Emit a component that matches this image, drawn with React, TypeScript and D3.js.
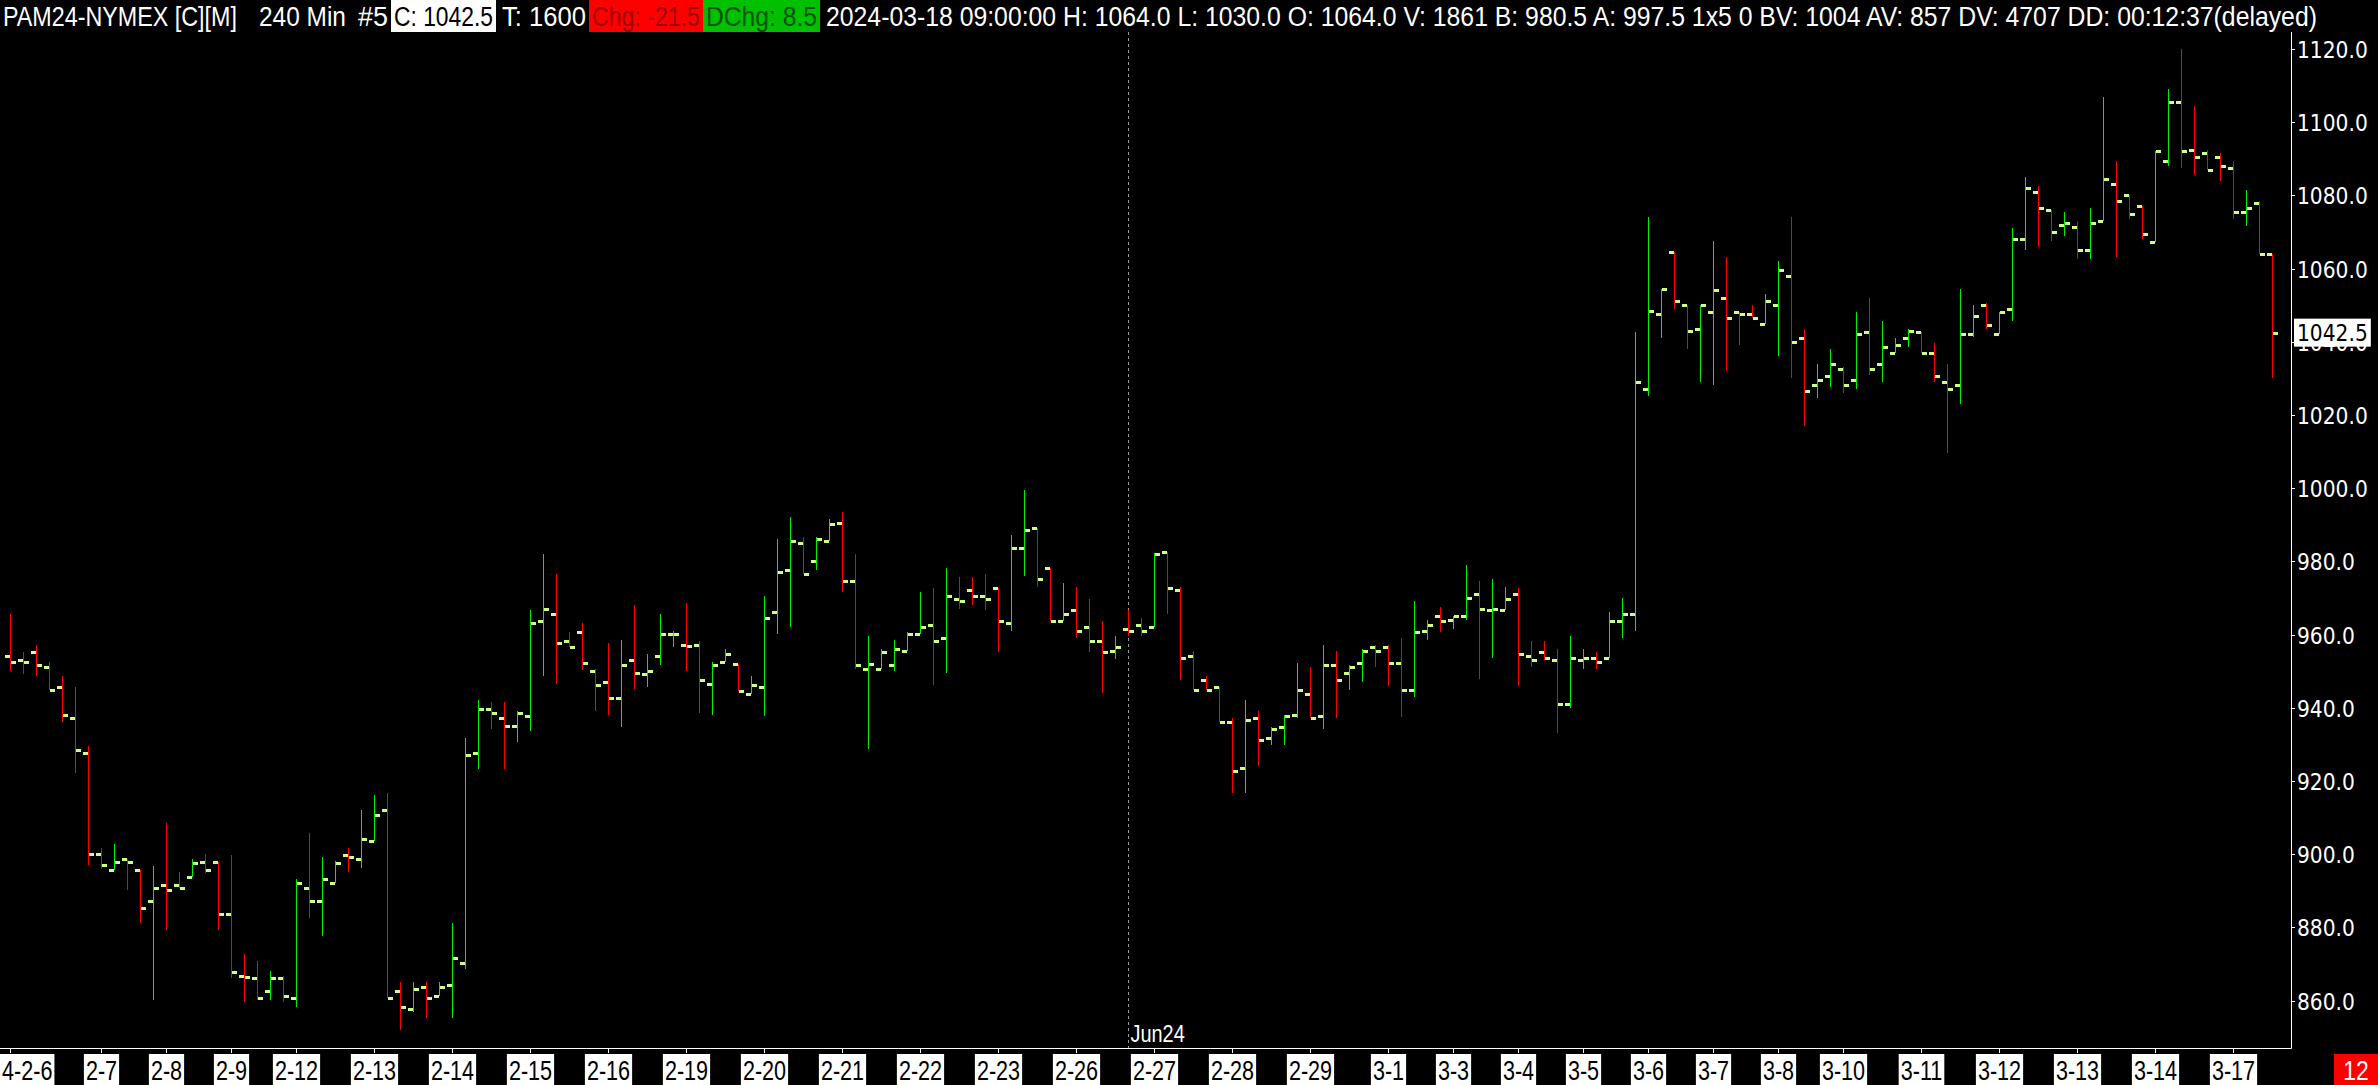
import React, { useRef, useEffect } from 'react';
import * as d3 from 'd3';

const W = 2378;
const H = 1085;

// 240 min OHLC bars, PAM24
const opens = [
  954.1, 953.0, 955.2, 951.1, 945.6, 937.1, 927.6, 900.0, 895.6, 898.6,
  895.6, 887.1, 891.5, 891.5, 893.7, 898.0, 898.0, 883.6, 866.6, 866.1,
  862.5, 866.1, 860.6, 890.9, 887.1, 892.0, 899.7, 898.6, 903.5, 912.0,
  862.5, 857.6, 863.6, 861.2, 864.2, 870.2, 927.6, 939.6, 937.1, 934.9,
  937.7, 963.6, 965.5, 958.2, 960.6, 950.0, 947.0, 942.6, 953.0, 949.1,
  954.1, 960.1, 957.1, 957.1, 946.4, 952.4, 952.1, 943.9, 945.6, 966.1,
  977.6, 984.9, 980.0, 985.5, 990.4, 974.6, 950.5, 950.5, 951.6, 955.4,
  960.1, 962.5, 959.0, 969.6, 972.1, 970.5, 972.6, 963.1, 983.6, 989.0,
  978.1, 963.6, 966.6, 962.0, 958.2, 955.4, 961.4, 962.5, 962.0, 982.5,
  972.1, 954.1, 947.5, 945.6, 936.0, 923.5, 937.1, 931.7, 934.7, 937.9,
  943.9, 937.7, 951.6, 949.4, 952.2, 956.5, 956.5, 952.2, 945.0, 960.9,
  965.0, 963.9, 965.0, 971.0, 966.6, 966.6, 971.0, 954.1, 955.2, 953.0,
  941.0, 953.0, 953.5, 953.5, 963.6, 965.5, 1027.0, 1047.5, 1064.5, 1050.0,
  1043.4, 1048.1, 1051.9, 1048.1, 1047.5, 1045.0, 1050.0, 1057.9, 1041.0, 1028.1,
  1030.6, 1032.5, 1029.5, 1042.6, 1033.8, 1036.9, 1041.0, 1042.6, 1036.9, 1028.9,
  1028.1, 1042.0, 1050.0, 1042.0, 1048.9, 1068.0, 1080.8, 1075.9, 1071.8, 1071.5,
  1065.0, 1072.9, 1083.0, 1080.0, 1077.0, 1067.4, 1089.3, 1105.4, 1092.3, 1091.5,
  1090.4, 1087.4, 1075.4, 1077.8, 1064.0,
];
const highs = [
  965.6, 955.2, 957.2, 952.5, 948.7, 945.7, 929.6, 901.7, 902.8, 898.6,
  895.6, 896.8, 908.5, 895.1, 898.7, 900.1, 898.0, 899.8, 872.7, 870.8,
  868.1, 866.6, 893.2, 905.8, 899.2, 898.1, 901.7, 912.1, 916.2, 916.7,
  865.1, 865.1, 865.1, 865.1, 881.2, 931.8, 942.1, 941.6, 941.6, 939.1,
  966.7, 982.0, 976.6, 960.7, 963.2, 950.5, 957.7, 958.5, 968.1, 954.7,
  965.6, 961.0, 968.6, 958.2, 952.5, 956.1, 952.1, 948.7, 970.5, 986.1,
  992.1, 986.7, 986.7, 991.6, 993.5, 982.0, 959.6, 956.1, 958.5, 960.7,
  971.6, 972.7, 978.2, 975.7, 975.7, 976.6, 972.6, 987.2, 999.5, 989.0,
  978.1, 974.1, 973.0, 969.7, 963.7, 959.6, 966.7, 964.5, 982.2, 982.5,
  973.0, 955.5, 948.7, 945.6, 937.2, 942.1, 939.1, 934.8, 938.0, 952.2,
  951.1, 957.2, 955.5, 951.8, 956.0, 957.1, 957.1, 959.1, 969.2, 964.0,
  967.5, 965.0, 979.0, 974.6, 975.2, 973.0, 972.7, 958.3, 958.3, 956.0,
  959.6, 956.0, 955.2, 966.2, 970.0, 1042.7, 1074.1, 1054.3, 1064.5, 1050.0,
  1050.0, 1067.5, 1063.2, 1048.1, 1050.0, 1053.1, 1062.1, 1074.1, 1043.5, 1033.9,
  1038.0, 1033.2, 1048.1, 1052.0, 1045.7, 1041.0, 1043.4, 1042.6, 1039.7, 1033.9,
  1054.4, 1050.1, 1050.5, 1048.1, 1071.1, 1085.0, 1082.6, 1075.9, 1075.5, 1072.9,
  1076.5, 1106.8, 1089.4, 1080.0, 1077.0, 1092.0, 1109.1, 1120.0, 1104.3, 1092.3,
  1091.5, 1089.3, 1081.4, 1078.4, 1064.0,
];
const lows = [
  950.1, 949.3, 948.8, 945.0, 936.2, 922.3, 897.0, 895.9, 895.6, 890.3,
  881.3, 860.3, 879.4, 890.9, 893.7, 894.8, 879.4, 866.3, 859.7, 860.3,
  860.3, 859.7, 858.3, 882.7, 877.7, 892.0, 895.2, 896.3, 903.5, 860.6,
  852.0, 856.8, 855.3, 861.2, 855.3, 868.7, 923.4, 934.3, 923.4, 930.7,
  933.7, 948.8, 946.6, 956.5, 950.2, 939.1, 938.0, 934.8, 945.1, 945.8,
  951.7, 956.7, 950.1, 938.6, 938.0, 952.4, 944.5, 943.9, 937.8, 960.3,
  962.2, 976.5, 977.7, 985.5, 971.7, 950.7, 928.8, 950.5, 950.1, 955.4,
  960.1, 946.3, 949.6, 967.1, 968.2, 966.8, 955.3, 961.1, 976.1, 973.1,
  963.6, 963.6, 959.2, 955.3, 944.0, 953.2, 959.7, 959.7, 962.0, 965.7,
  947.7, 945.0, 945.0, 936.0, 916.8, 916.8, 924.2, 929.7, 929.7, 937.3,
  937.1, 934.3, 937.3, 945.0, 947.0, 951.2, 946.0, 937.5, 943.0, 958.5,
  960.7, 961.6, 964.0, 948.0, 953.7, 966.6, 946.0, 951.2, 953.0, 933.0,
  940.0, 950.7, 950.7, 953.5, 959.2, 961.1, 1025.3, 1041.1, 1049.0, 1038.1,
  1029.1, 1028.3, 1032.0, 1039.2, 1046.4, 1045.0, 1036.2, 1030.2, 1017.1, 1024.7,
  1027.7, 1026.1, 1027.2, 1030.8, 1029.1, 1036.9, 1038.7, 1036.9, 1029.1, 1009.7,
  1023.1, 1041.2, 1043.6, 1042.0, 1045.8, 1065.2, 1066.0, 1067.6, 1069.0, 1062.7,
  1062.7, 1072.9, 1063.3, 1073.6, 1068.2, 1067.4, 1088.1, 1087.6, 1085.7, 1086.9,
  1084.0, 1073.6, 1071.7, 1063.9, 1030.0,
];
const closes = [
  952.4, 952.4, 951.6, 945.0, 937.9, 928.6, 900.0, 897.0, 898.0, 898.0,
  885.2, 890.9, 890.1, 890.9, 897.5, 895.6, 883.6, 867.7, 866.5, 860.6,
  866.1, 861.2, 892.0, 887.1, 893.1, 897.5, 899.1, 904.1, 910.6, 860.6,
  858.2, 863.1, 860.6, 863.6, 871.6, 927.0, 939.6, 938.5, 934.9, 938.5,
  963.1, 966.9, 957.6, 956.5, 952.2, 946.1, 942.6, 951.6, 949.4, 950.0,
  960.1, 960.2, 957.0, 947.5, 951.6, 954.6, 944.5, 946.1, 964.4, 977.0,
  985.5, 976.5, 986.0, 990.1, 974.6, 951.6, 952.1, 955.2, 956.0, 960.1,
  962.0, 958.2, 970.5, 969.1, 970.5, 969.6, 963.6, 983.6, 988.5, 975.1,
  963.6, 965.5, 960.9, 958.2, 955.2, 956.5, 960.9, 960.9, 981.9, 972.6,
  953.5, 945.0, 945.0, 936.0, 922.6, 936.6, 931.1, 934.1, 937.7, 945.0,
  937.1, 951.6, 947.5, 951.1, 955.4, 955.4, 952.2, 945.0, 960.6, 962.5,
  963.6, 965.0, 969.9, 966.9, 966.9, 969.6, 954.6, 953.0, 953.5, 941.0,
  953.5, 953.5, 952.4, 963.6, 965.5, 1028.9, 1048.3, 1054.3, 1051.1, 1042.9,
  1050.0, 1054.1, 1046.4, 1047.5, 1046.4, 1051.1, 1059.5, 1039.9, 1026.5, 1029.5,
  1033.8, 1028.1, 1042.0, 1032.5, 1038.5, 1039.0, 1042.9, 1036.9, 1030.6, 1027.0,
  1042.0, 1047.0, 1044.5, 1048.1, 1068.0, 1081.9, 1076.5, 1069.9, 1072.4, 1065.0,
  1072.4, 1084.4, 1078.4, 1074.8, 1069.4, 1092.0, 1105.4, 1092.0, 1090.4, 1086.9,
  1087.9, 1075.4, 1076.5, 1063.9, 1042.5,
];

const dayLabels = [
  '4-2-6', '2-7', '2-8', '2-9', '2-12', '2-13', '2-14', '2-15', '2-16', '2-19',
  '2-20', '2-21', '2-22', '2-23', '2-26', '2-27', '2-28', '2-29', '3-1', '3-3',
  '3-4', '3-5', '3-6', '3-7', '3-8', '3-10', '3-11', '3-12', '3-13', '3-14', '3-17',
];
const dayStarts = [
  0, 7, 12, 17, 22, 28, 34, 40, 46, 52, 58, 64, 70, 76, 82, 88, 94, 100, 106, 111,
  116, 121, 126, 131, 136, 141, 147, 153, 159, 165, 171,
];

const yTicks = [860, 880, 900, 920, 940, 960, 980, 1000, 1020, 1040, 1060, 1080, 1100, 1120];
const lastPrice = 1042.5;
const rollIndex = 86;
const rollLabel = 'Jun24';

const headerParts = [
  { text: 'PAM24-NYMEX [C][M]', x0: 3, x1: 237, fg: '#ffffff', bg: '' },
  { text: '240 Min', x0: 259, x1: 346, fg: '#ffffff', bg: '' },
  { text: '#5', x0: 358, x1: 388, fg: '#ffffff', bg: '' },
  { text: 'C: 1042.5', x0: 394, x1: 493, fg: '#000000', bg: '#ffffff' },
  { text: 'T: 1600', x0: 502, x1: 586, fg: '#ffffff', bg: '' },
  { text: 'Chg: -21.5', x0: 592, x1: 700, fg: '#a00000', bg: '#ff0000' },
  { text: 'DChg: 8.5', x0: 706, x1: 817, fg: '#005500', bg: '#00c000' },
  {
    text: '2024-03-18 09:00:00 H: 1064.0 L: 1030.0 O: 1064.0 V: 1861 B: 980.5 A: 997.5 1x5 0 BV: 1004 AV: 857 DV: 4707 DD: 00:12:37(delayed)',
    x0: 826, x1: 2318, fg: '#ffffff', bg: '',
  },
];

const NARROW = "'Liberation Sans', Arial, sans-serif";
const AXISFONT = "'DejaVu Sans', Verdana, sans-serif";

// measure a text and squeeze it horizontally to the wanted width
const place = (
  t: d3.Selection<SVGTextElement, unknown, null, undefined>,
  left: number,
  baseline: number,
  width: number | null,
  factor = 1,
) => {
  const node = t.node()!;
  const nat = node.getComputedTextLength() || 1;
  const w = width ?? nat * factor;
  t.attr('x', 0).attr('y', 0)
    .attr('transform', `translate(${left},${baseline}) scale(${w / nat},1)`);
  return w;
};
const measure = (t: d3.Selection<SVGTextElement, unknown, null, undefined>) =>
  t.node()!.getComputedTextLength();

export default function App() {
  const ref = useRef<SVGSVGElement | null>(null);

  useEffect(() => {
    if (!ref.current) return;
    const svg = d3.select(ref.current);
    svg.selectAll('*').remove();

    const plotRight = 2291;
    const plotTop = 32;
    const plotBottom = 1048;

    const x = d3.scaleLinear().domain([0, opens.length - 1]).range([10.3, 2272.3]);
    const y = d3.scaleLinear().domain([860, 1120]).range([1000.6, 49]);

    svg.append('rect').attr('width', W).attr('height', H).attr('fill', '#000');

    // contract roll marker
    const rx = Math.round(x(rollIndex)) + 0.5;
    svg.append('line')
      .attr('x1', rx).attr('x2', rx)
      .attr('y1', plotTop).attr('y2', plotBottom)
      .attr('stroke', '#9a9a9a').attr('stroke-width', 1)
      .attr('stroke-dasharray', '3 3');
    const rt = svg.append('text')
      .attr('font-family', NARROW).attr('font-size', 24)
      .attr('fill', '#ffffff').text(rollLabel);
    place(rt, rx + 2, 1042, null, 0.83);

    // OHLC bars
    const bars = d3.range(opens.length).map(i => ({
      i, o: opens[i], h: highs[i], l: lows[i], c: closes[i],
    }));
    const px = (i: number) => Math.round(x(i));
    const g = svg.append('g').attr('shape-rendering', 'crispEdges');
    g.selectAll('line.hl').data(bars).join('line')
      .attr('class', 'hl')
      .attr('x1', d => px(d.i) + 0.5).attr('x2', d => px(d.i) + 0.5)
      .attr('y1', d => y(d.h)).attr('y2', d => y(d.l))
      .attr('stroke', d => (d.c >= d.o ? '#00ee00' : '#ff0000'))
      .attr('stroke-width', 1);
    g.selectAll('rect.op').data(bars).join('rect')
      .attr('class', 'op')
      .attr('x', d => px(d.i) - 5).attr('y', d => Math.round(y(d.o)) - 1)
      .attr('width', 5).attr('height', 3).attr('fill', '#ccff88');
    g.selectAll('rect.cl').data(bars).join('rect')
      .attr('class', 'cl')
      .attr('x', d => px(d.i) + 1).attr('y', d => Math.round(y(d.c)) - 1)
      .attr('width', 5).attr('height', 3).attr('fill', '#ccff88');

    // axes lines
    svg.append('line')
      .attr('x1', plotRight + 0.5).attr('x2', plotRight + 0.5)
      .attr('y1', plotTop).attr('y2', plotBottom + 0.5)
      .attr('stroke', '#ffffff').attr('stroke-width', 1);
    svg.append('line')
      .attr('x1', 0).attr('x2', plotRight + 0.5)
      .attr('y1', plotBottom + 0.5).attr('y2', plotBottom + 0.5)
      .attr('stroke', '#ffffff').attr('stroke-width', 1);

    // y axis ticks and labels
    const ya = svg.append('g');
    yTicks.forEach(v => {
      const ty = Math.round(y(v)) + 0.5;
      ya.append('line')
        .attr('x1', plotRight).attr('x2', plotRight + 4)
        .attr('y1', ty).attr('y2', ty)
        .attr('stroke', '#ffffff');
      const t = ya.append('text')
        .attr('dy', '0.36em')
        .attr('font-family', AXISFONT).attr('font-size', 23)
        .attr('fill', '#ffffff').text(d3.format('.1f')(v));
      place(t, plotRight + 6, ty, null, 0.88);
    });

    // last price tag
    const ly = y(lastPrice);
    const tag = svg.append('g');
    const tagRect = tag.append('rect')
      .attr('x', plotRight + 3).attr('y', ly - 14).attr('height', 28)
      .attr('fill', '#ffffff');
    const tagText = tag.append('text')
      .attr('dy', '0.36em')
      .attr('font-family', AXISFONT).attr('font-size', 23)
      .attr('fill', '#000000').text(d3.format('.1f')(lastPrice));
    const tw = place(tagText, plotRight + 6, ly, null, 0.88);
    tagRect.attr('width', tw + 6);

    // x axis day labels
    const xa = svg.append('g');
    dayLabels.forEach((lab, k) => {
      const cx = px(dayStarts[k]) + 0.5;
      xa.append('line')
        .attr('x1', cx).attr('x2', cx)
        .attr('y1', plotBottom).attr('y2', plotBottom + 5)
        .attr('stroke', '#ffffff');
      const grp = xa.append('g');
      const r = grp.append('rect').attr('y', 1054).attr('height', 31).attr('fill', '#ffffff');
      const t = grp.append('text')
        .attr('font-family', NARROW).attr('font-size', 27)
        .attr('fill', '#000000').text(lab);
      const w = measure(t) * 0.8;
      let bx = cx - w / 2 - 2;
      if (bx < 0) bx = 0;
      r.attr('x', bx).attr('width', w + 4);
      place(t, bx + 2, 1080, w);
    });

    // page counter box
    svg.append('rect').attr('x', 2334).attr('y', 1054).attr('width', 44).attr('height', 31).attr('fill', '#ff0000');
    const pc = svg.append('text')
      .attr('font-family', NARROW).attr('font-size', 27)
      .attr('fill', '#ffffff').text('12');
    const pw = measure(pc) * 0.85;
    place(pc, 2356 - pw / 2, 1080, pw);

    // header strip
    const hd = svg.append('g');
    headerParts.forEach(p => {
      if (p.bg) {
        hd.append('rect')
          .attr('x', p.x0 - 3).attr('y', 0)
          .attr('width', p.x1 - p.x0 + 6).attr('height', 32)
          .attr('fill', p.bg);
      }
      const t = hd.append('text')
        .attr('font-family', NARROW).attr('font-size', 27)
        .attr('fill', p.fg)
        .text(p.text);
      place(t, p.x0, 26, p.x1 - p.x0);
    });
  }, []);

  return (
    <div style={{ position: 'fixed', left: 0, top: 0, width: W, height: H, background: '#000' }}>
      <svg ref={ref} width={W} height={H} style={{ display: 'block' }} />
    </div>
  );
}
